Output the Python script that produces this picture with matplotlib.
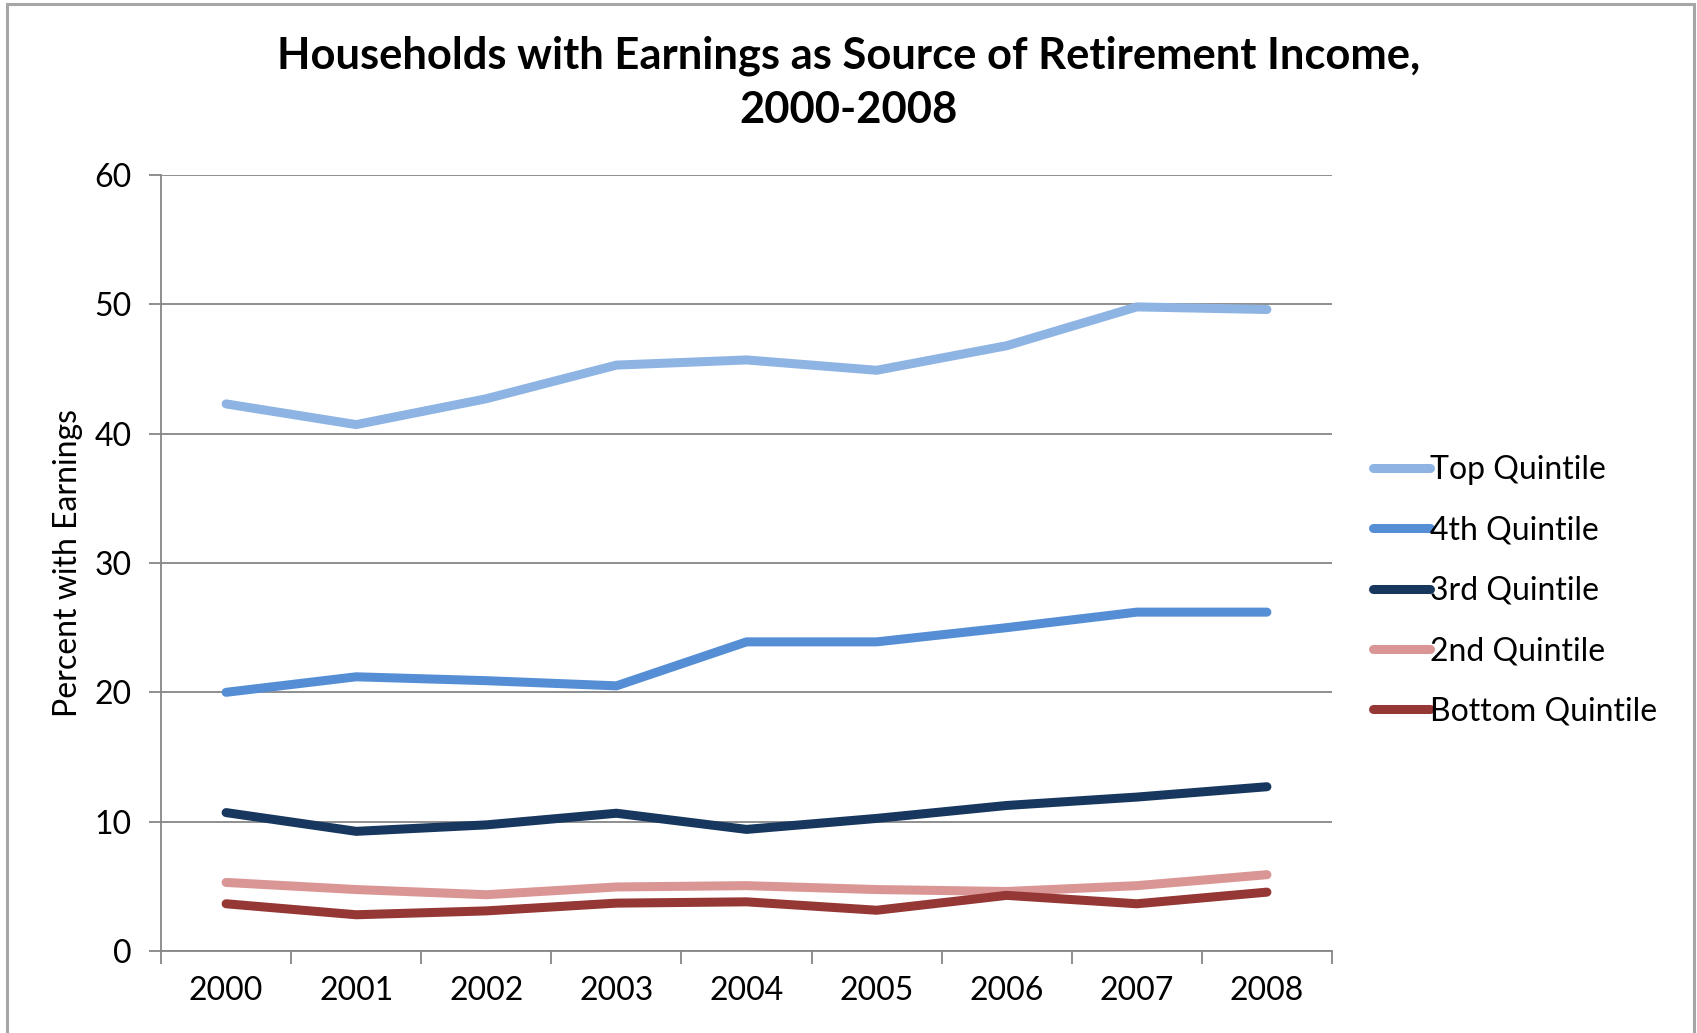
import matplotlib
matplotlib.use("Agg")
import matplotlib.pyplot as plt
from matplotlib.patches import Rectangle

plt.rcParams.update({"font.family": ["Lato", "DejaVu Sans"], "font.size": 23})

years = ["2000", "2001", "2002", "2003", "2004", "2005", "2006", "2007", "2008"]
top_q = [42.3, 40.7, 42.7, 45.3, 45.7, 44.9, 46.8, 49.8, 49.6]
fourth_q = [20.0, 21.2, 20.9, 20.5, 23.9, 23.9, 25.0, 26.2, 26.2]
third_q = [10.7, 9.25, 9.75, 10.65, 9.4, 10.25, 11.25, 11.9, 12.7]
second_q = [5.3, 4.75, 4.35, 4.95, 5.05, 4.75, 4.6, 5.05, 5.9]
bottom_q = [3.65, 2.8, 3.1, 3.7, 3.8, 3.15, 4.3, 3.65, 4.55]

series = [("Top Quintile", top_q, "#8EB4E3"),
          ("4th Quintile", fourth_q, "#558ED5"),
          ("3rd Quintile", third_q, "#17375E"),
          ("2nd Quintile", second_q, "#D99694"),
          ("Bottom Quintile", bottom_q, "#953735")]

fig = plt.figure(figsize=(16.97, 10.33), dpi=100)
fig.patches.append(Rectangle((0.0042, -0.1), 0.9941, 1.096, transform=fig.transFigure,
                             fill=False, ec="#a6a6a6", lw=2.2))
ax = fig.add_axes([0.0949, 0.0794, 0.690, 0.7512])

x = list(range(len(years)))
for name, vals, col in series:
    ax.plot(x, vals, color=col, lw=6.5, solid_capstyle="round", solid_joinstyle="round", label=name)

ax.set_xlim(-0.5, len(years) - 0.5)
ax.set_ylim(0, 60)
ax.set_yticks(range(0, 61, 10))
ax.set_xticks([i - 0.5 for i in range(len(years) + 1)])
ax.set_xticklabels([])
ax.set_xticks(x, minor=True)
ax.set_xticklabels(years, minor=True)
ax.tick_params(axis="x", which="major", length=9, width=1.3, color="#868686", direction="out")
ax.tick_params(axis="x", which="minor", length=0, pad=18, labelsize=23)
ax.tick_params(axis="y", length=9, width=1.3, color="#868686", direction="out", pad=12, labelsize=23)
ax.grid(axis="y", color="#868686", lw=1.3)
ax.set_axisbelow(True)
for s in ("top", "right"):
    ax.spines[s].set_visible(False)
for s in ("left", "bottom"):
    ax.spines[s].set_color("#868686")
    ax.spines[s].set_linewidth(1.3)

ax.set_ylabel("Percent with Earnings", fontsize=23)
ax.yaxis.set_label_coords(-0.067, 0.5)

fig.text(0.5, 0.9195, "Households with Earnings as Source of Retirement Income,\n2000-2008",
         ha="center", va="center", fontsize=31.3, fontweight="bold", linespacing=1.42)

fig.legend(loc="center left", bbox_to_anchor=(0.792, 0.428), frameon=False,
           handlelength=1.8, handletextpad=0.0, labelspacing=0.95, fontsize=23)

fig.savefig("out.png", dpi=100)
